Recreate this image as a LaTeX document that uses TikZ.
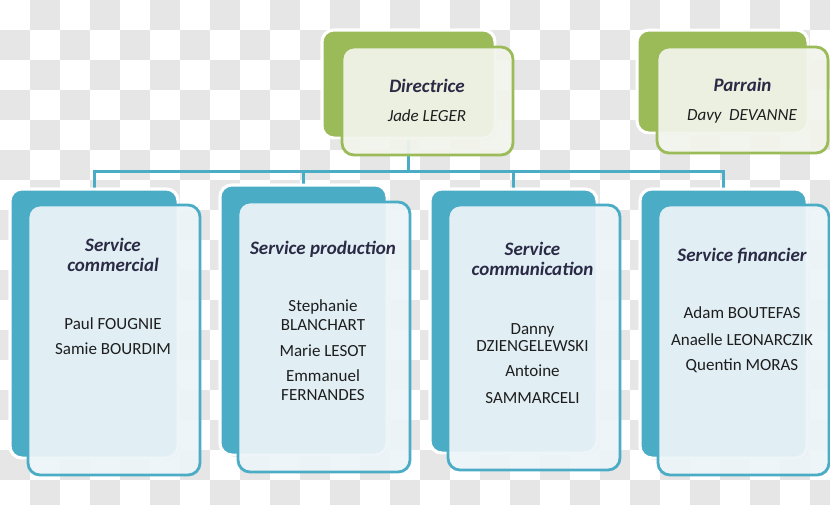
\documentclass[tikz,border=0pt]{standalone}
\usepackage{fontspec}
\setmainfont{Carlito}
\usetikzlibrary{shadows}
\definecolor{aqua}{HTML}{4BACC6}
\definecolor{olive}{HTML}{9BBB59}
\definecolor{aquafront}{HTML}{EDF5F9}
\definecolor{olivefront}{HTML}{F2F5EC}
\definecolor{checker}{HTML}{E6E6E6}
\definecolor{titletext}{HTML}{2B2A45}
\definecolor{nametext}{HTML}{1E1E1E}
\begin{document}
\begin{tikzpicture}[x=1pt,y=-1pt,
  backbox/.style={draw=white, line width=3pt, rounded corners=12pt, inner sep=0pt,
    drop shadow={shadow xshift=1.5pt, shadow yshift=-1.5pt, opacity=0.25, fill=black}},
  frontbox/.style={line width=2.8pt, rounded corners=12pt, inner sep=0pt, fill opacity=0.93},
  aquaback/.style={backbox, fill=aqua},
  aquafrontbox/.style={frontbox, draw=aqua, fill=aquafront},
  oliveback/.style={backbox, fill=olive},
  olivefrontbox/.style={frontbox, draw=olive, fill=olivefront},
  conn/.style={draw=aqua, line width=3pt},
  ttl/.style={anchor=base, inner sep=0pt, text=titletext, font=\fontsize{19}{22}\selectfont\bfseries\itshape},
  nm/.style={anchor=base, inner sep=0pt, text=nametext, font=\fontsize{17}{20}\selectfont},
  nmi/.style={anchor=base, inner sep=0pt, text=nametext, font=\fontsize{17}{20}\selectfont\itshape}
]
\useasboundingbox (0,0) rectangle (830,504);
% checkerboard background
\fill[white] (0,0) rectangle (830,504);
\foreach \j in {0,...,16}{
  \pgfmathtruncatemacro{\st}{1-mod(\j,2)}
  \foreach \k in {0,...,13}{
    \fill[checker] ({(2*\k+\st)*30},{\j*30}) rectangle ++(30,30);
  }
}

% back boxes (positioned first for connector anchors)
\node[oliveback, minimum width=173pt, minimum height=108pt] (dirback) at (408.5,84) {};
\node[oliveback, minimum width=171pt, minimum height=103pt] (parback) at (722.5,81.5) {};

\coordinate (bus) at (0,171);
\draw[conn] (dirback.south) -- (dirback.south |- bus);

\node[aquaback, minimum width=168pt, minimum height=269pt] (comback) at (94,323.5) {};
\node[aquaback, minimum width=167pt, minimum height=270pt] (prodback) at (303.5,320) {};
\node[aquaback, minimum width=167pt, minimum height=264pt] (comuback) at (513.5,321) {};
\node[aquaback, minimum width=167pt, minimum height=269pt] (finback) at (723.5,323.5) {};

% connectors
\draw[conn] (comback.north) -- (comback.north |- bus) -- (finback.north |- bus) -- (finback.north);
\draw[conn] (prodback.north |- bus) -- (prodback.north);
\draw[conn] (comuback.north |- bus) -- (comuback.north);

% redraw back boxes above connectors
\node[oliveback, minimum width=173pt, minimum height=108pt] at (dirback) {};
\node[aquaback, minimum width=168pt, minimum height=269pt] at (comback) {};
\node[aquaback, minimum width=167pt, minimum height=270pt] at (prodback) {};
\node[aquaback, minimum width=167pt, minimum height=264pt] at (comuback) {};
\node[aquaback, minimum width=167pt, minimum height=269pt] at (finback) {};

% front boxes
\node[olivefrontbox, minimum width=171pt, minimum height=108pt] (dirfront) at (427.5,101) {};
\node[olivefrontbox, minimum width=171pt, minimum height=106pt] (parfront) at (742.5,100) {};
\node[aquafrontbox, minimum width=172pt, minimum height=270pt] (comfront) at (114,340) {};
\node[aquafrontbox, minimum width=172pt, minimum height=270pt] (prodfront) at (324,337) {};
\node[aquafrontbox, minimum width=172pt, minimum height=265pt] (comufront) at (534,337.5) {};
\node[aquafrontbox, minimum width=171pt, minimum height=270pt] (finfront) at (743.5,340) {};

% texts
\node[ttl] (dirt) at (427,92.7) {Directrice};
\node[nmi] (dirn) at (427,121) {Jade LEGER};
\node[ttl] (part) at (742.5,91) {Parrain};
\node[nmi] (parn) at (742,120) {Davy\ \ DEVANNE};

\node[ttl] (comt1) at (113,251) {Service};
\node[ttl] (comt2) at (113,271) {commercial};
\node[nm] (comn1) at (113,329) {Paul FOUGNIE};
\node[nm] (comn2) at (113,354) {Samie BOURDIM};

\node[ttl] (prodt) at (323,254) {Service production};
\node[nm] (prodn1) at (323,311.7) {Stephanie};
\node[nm] (prodn2) at (323,330.7) {BLANCHART};
\node[nm] (prodn3) at (323,356.7) {Marie LESOT};
\node[nm] (prodn4) at (323,381.7) {Emmanuel};
\node[nm] (prodn5) at (323,400.7) {FERNANDES};

\node[ttl] (comut1) at (532.5,255) {Service};
\node[ttl] (comut2) at (532.5,275) {communication};
\node[nm] (comun1) at (532.5,334) {Danny};
\node[nm] (comun2) at (532.5,351.7) {DZIENGELEWSKI};
\node[nm] (comun3) at (532.5,376.7) {Antoine};
\node[nm] (comun4) at (532.5,403.3) {SAMMARCELI};

\node[ttl] (fint) at (742,261.7) {Service financier};
\node[nm] (finn1) at (742,318.3) {Adam BOUTEFAS};
\node[nm] (finn2) at (742,345) {Anaelle LEONARCZIK};
\node[nm] (finn3) at (742,370) {Quentin MORAS};
\end{tikzpicture}
\end{document}
